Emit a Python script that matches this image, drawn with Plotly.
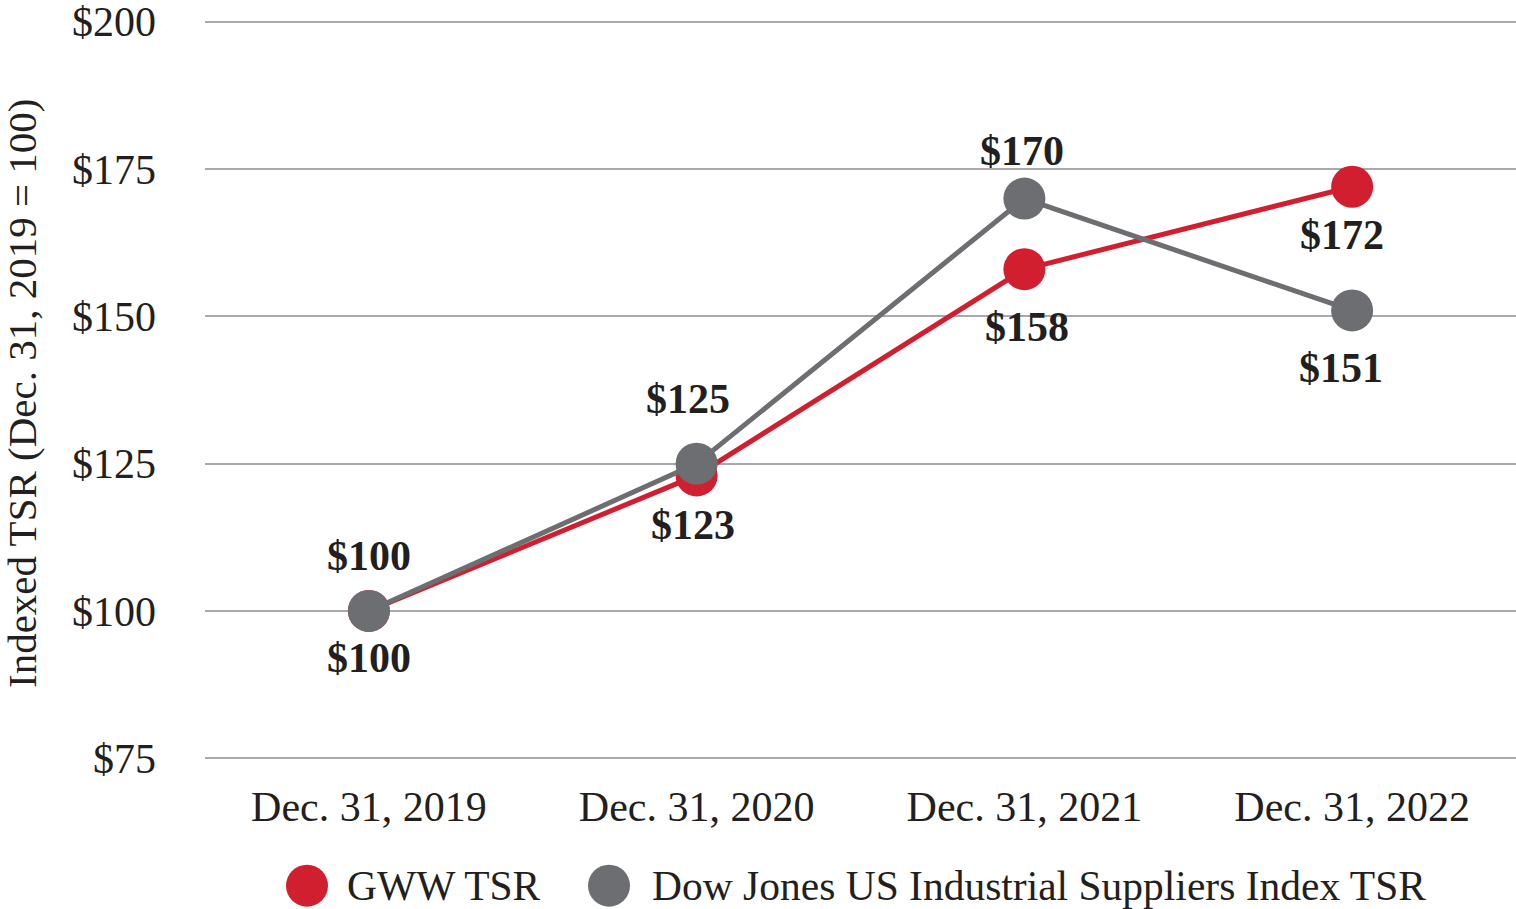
import plotly.graph_objects as go

categories = ["Dec. 31, 2019", "Dec. 31, 2020", "Dec. 31, 2021", "Dec. 31, 2022"]
gww_tsr = [100, 123, 158, 172]
dj_tsr = [100, 125, 170, 151]
y_ticks = [75, 100, 125, 150, 175, 200]
y_tick_labels = ["$75", "$100", "$125", "$150", "$175", "$200"]
series_names = ["GWW TSR", "Dow Jones US Industrial Suppliers Index TSR"]

RED = "#D21F2F"
GREY = "#6D6E71"
TXT = "#231F20"
FONT = "Liberation Serif"

fig = go.Figure()
fig.add_trace(go.Scatter(x=categories, y=gww_tsr, mode="lines+markers", name=series_names[0],
                         line=dict(color=RED, width=5), marker=dict(color=RED, size=42),
                         showlegend=False))
fig.add_trace(go.Scatter(x=categories, y=dj_tsr, mode="lines+markers", name=series_names[1],
                         line=dict(color=GREY, width=5), marker=dict(color=GREY, size=42),
                         showlegend=False))

# data labels (offsets in px are style, not data)
gww_shift = [-47, -50, -58, -48]
gww_xshift = [0, -4, 3, -10]
dj_shift = [55, 65, 48, -58]
dj_xshift = [0, -9, -2, -11]
annotations = []
for i, c in enumerate(categories):
    annotations.append(dict(x=c, y=gww_tsr[i], xref="x", yref="y", text=f"<b>${gww_tsr[i]}</b>",
                            showarrow=False, yshift=gww_shift[i], xshift=gww_xshift[i],
                            font=dict(family=FONT, size=42, color=TXT)))
    annotations.append(dict(x=c, y=dj_tsr[i], xref="x", yref="y", text=f"<b>${dj_tsr[i]}</b>",
                            showarrow=False, yshift=dj_shift[i], xshift=dj_xshift[i],
                            font=dict(family=FONT, size=42, color=TXT)))

# y-axis title
annotations.append(dict(x=-0.1396, y=(770 - 392) / 762, xref="paper", yref="paper",
                        text="Indexed TSR (Dec. 31, 2019 = 100)", textangle=-90, showarrow=False,
                        xanchor="center", yanchor="middle",
                        font=dict(family=FONT, size=41, color=TXT)))

# custom legend
legend_y = (770 - 886) / 762
shapes = []
for name, color, cx, tx in [(series_names[0], RED, 307, 345), (series_names[1], GREY, 609, 650)]:
    px = (cx - 205) / 1311
    shapes.append(dict(type="circle", xref="paper", yref="paper", xsizemode="pixel", ysizemode="pixel",
                       xanchor=px, yanchor=legend_y, x0=-21, x1=21, y0=-21, y1=21,
                       fillcolor=color, line=dict(width=0)))
    annotations.append(dict(x=(tx - 205) / 1311, y=legend_y, xref="paper", yref="paper", text=name,
                            showarrow=False, xanchor="left", yanchor="middle",
                            font=dict(family=FONT, size=41.5, color=TXT)))

fig.update_layout(
    width=1516, height=909,
    margin=dict(l=205, r=0, t=8, b=139),
    plot_bgcolor="white", paper_bgcolor="white",
    font=dict(family=FONT, size=42, color=TXT),
    annotations=annotations, shapes=shapes,
    showlegend=False,
)
fig.update_xaxes(range=[-0.5, 3.5], showgrid=False, zeroline=False, showline=False,
                 ticks="", ticklabelstandoff=8, ticklabeloverflow="allow",
                 tickfont=dict(family=FONT, size=42, color=TXT))
fig.update_yaxes(range=[73, 202], tickvals=y_ticks, ticktext=y_tick_labels, showgrid=True,
                 gridcolor="#A7A9AC", gridwidth=2, zeroline=False, showline=False, ticks="",
                 ticklabelstandoff=48, ticklabeloverflow="allow",
                 tickfont=dict(family=FONT, size=42, color=TXT))

fig.write_html("out.html", config={"displayModeBar": False},
               post_script="document.body.style.margin='0';document.body.style.overflow='hidden';")
